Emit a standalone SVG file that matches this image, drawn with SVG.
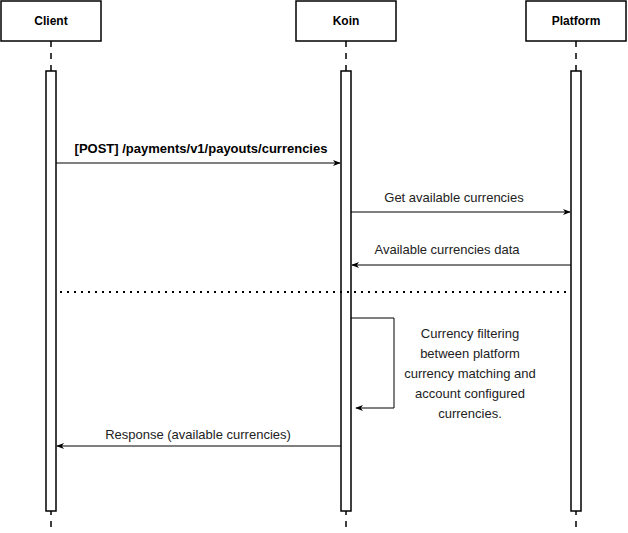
<svg xmlns="http://www.w3.org/2000/svg" width="628" height="533" viewBox="0 0 628 533">
<style>
.box{fill:#fff;stroke:#000;stroke-width:1.5}
.bar{fill:#fff;stroke:#000;stroke-width:1.5}
.life{stroke:#000;stroke-width:1.5;stroke-dasharray:6 6;fill:none}
.hd{font-family:"Liberation Sans",Arial,sans-serif;font-size:12px;font-weight:bold;fill:#000;text-anchor:middle}
.hm{font-family:"Liberation Sans",Arial,sans-serif;font-size:13px;font-weight:bold;fill:#000;text-anchor:middle}
.lb{font-family:"Liberation Sans",Arial,sans-serif;font-size:13px;fill:#222;text-anchor:middle}
.msg{stroke:#000;stroke-width:1;fill:none}
</style>
<defs>
<marker id="ah" viewBox="0 0 10 10" refX="9" refY="5" markerWidth="8" markerHeight="8" orient="auto" markerUnits="userSpaceOnUse">
<path d="M0,1 L10,5 L0,9 L3,5 Z" fill="#000"/>
</marker>
</defs>
<g id="client">
<line class="life" x1="51" y1="41" x2="51" y2="533"/>
<rect class="box" x="1" y="1" width="100" height="40"/>
<text class="hd" x="51" y="25">Client</text>
<rect class="bar" x="46" y="71" width="10" height="440"/>
</g>
<g id="koin">
<line class="life" x1="346" y1="41" x2="346" y2="533"/>
<rect class="box" x="296" y="1" width="100" height="40"/>
<text class="hd" x="346" y="25">Koin</text>
<rect class="bar" x="341" y="71" width="10" height="440"/>
</g>
<g id="platform">
<line class="life" x1="576" y1="41" x2="576" y2="533"/>
<rect class="box" x="526" y="1" width="100" height="40"/>
<text class="hd" x="576" y="25">Platform</text>
<rect class="bar" x="571" y="71" width="10" height="440"/>
</g>
<g id="connectors">
<line class="msg" x1="56" y1="163" x2="340" y2="163" marker-end="url(#ah)"/>
<text class="hm" x="201" y="153">[POST] /payments/v1/payouts/currencies</text>
<line class="msg" x1="351" y1="212" x2="570" y2="212" marker-end="url(#ah)"/>
<text class="lb" x="454" y="202">Get available currencies</text>
<line class="msg" x1="571" y1="265" x2="352" y2="265" marker-end="url(#ah)"/>
<text class="lb" x="447" y="254">Available currencies data</text>
<line x1="60" y1="292" x2="568" y2="292" stroke="#000" stroke-width="2" stroke-dasharray="2 5"/>
<polyline class="msg" points="351,318 394,318 394,408 356,408" marker-end="url(#ah)"/>
<text class="lb" x="470" y="338">Currency filtering</text>
<text class="lb" x="470" y="358">between platform</text>
<text class="lb" x="470" y="378">currency matching and</text>
<text class="lb" x="470" y="398">account configured</text>
<text class="lb" x="470" y="418">currencies.</text>
<line class="msg" x1="341" y1="446" x2="57" y2="446" marker-end="url(#ah)"/>
<text class="lb" x="198" y="439">Response (available currencies)</text>
</g>
</svg>
